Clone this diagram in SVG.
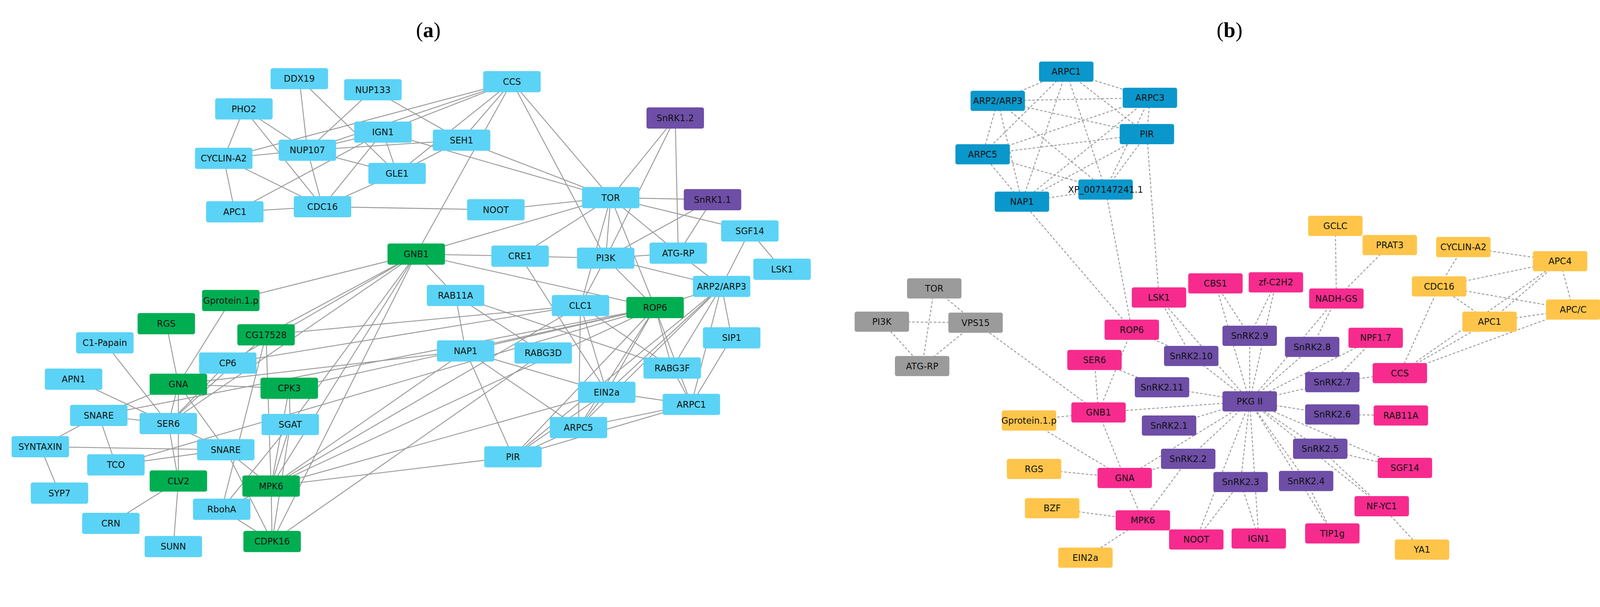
<svg xmlns="http://www.w3.org/2000/svg" width="4296" height="1553" viewBox="0 0 4296 1553">
<style>
.e line{stroke:#999;stroke-width:0.9;fill:none}
.d line{stroke:#999;stroke-width:0.9;stroke-dasharray:2.5 1.8;fill:none}
text{font-family:"DejaVu Sans","Liberation Sans",sans-serif;font-size:8.8px;fill:#111;text-anchor:middle;dominant-baseline:central}
.t{font-family:"Liberation Serif",serif;font-size:21px;fill:#000}
.lb rect{fill:#5BD3F6}.gr rect{fill:#00AE52}.pu rect{fill:#6E4EA6}.db rect{fill:#0A97CB}.pk rect{fill:#F72B8E}.ye rect{fill:#FFC54A}.gy rect{fill:#9B9B9B}
</style>
<rect width="4296" height="1553" fill="#fff"/>
<g transform="scale(2.58)">
<text class="t" x="425" y="30">(<tspan font-weight="bold">a</tspan>)</text>
<text class="t" x="1220" y="30">(<tspan font-weight="bold">b</tspan>)</text>
<g id="connectors">
<g class="e">
<line x1="297" y1="78" x2="305" y2="149"/><line x1="297" y1="78" x2="394" y2="172"/>
<line x1="370" y1="89" x2="305" y2="149"/><line x1="370" y1="89" x2="458" y2="139"/>
<line x1="242" y1="108" x2="222" y2="157"/><line x1="242" y1="108" x2="305" y2="149"/><line x1="242" y1="108" x2="320" y2="205"/>
<line x1="508" y1="81" x2="222" y2="157"/><line x1="508" y1="81" x2="305" y2="149"/><line x1="508" y1="81" x2="380" y2="131"/><line x1="508" y1="81" x2="394" y2="172"/><line x1="508" y1="81" x2="458" y2="139"/><line x1="508" y1="81" x2="413" y2="252"/><line x1="508" y1="81" x2="606" y2="196"/><line x1="508" y1="81" x2="601" y2="256"/>
<line x1="380" y1="131" x2="305" y2="149"/><line x1="380" y1="131" x2="394" y2="172"/><line x1="380" y1="131" x2="320" y2="205"/><line x1="380" y1="131" x2="233" y2="210"/><line x1="380" y1="131" x2="606" y2="196"/>
<line x1="458" y1="139" x2="305" y2="149"/><line x1="458" y1="139" x2="394" y2="172"/><line x1="458" y1="139" x2="606" y2="196"/>
<line x1="305" y1="149" x2="222" y2="157"/><line x1="305" y1="149" x2="394" y2="172"/><line x1="305" y1="149" x2="320" y2="205"/>
<line x1="222" y1="157" x2="233" y2="210"/><line x1="222" y1="157" x2="320" y2="205"/><line x1="394" y1="172" x2="320" y2="205"/>
<line x1="233" y1="210" x2="320" y2="205"/><line x1="320" y1="205" x2="492" y2="208"/><line x1="492" y1="208" x2="606" y2="196"/>
<line x1="670" y1="117" x2="606" y2="196"/><line x1="670" y1="117" x2="601" y2="256"/><line x1="670" y1="117" x2="673" y2="251"/>
<line x1="606" y1="196" x2="707" y2="198"/><line x1="606" y1="196" x2="744" y2="229"/><line x1="606" y1="196" x2="413" y2="252"/><line x1="606" y1="196" x2="516" y2="254"/><line x1="606" y1="196" x2="601" y2="256"/><line x1="606" y1="196" x2="673" y2="251"/><line x1="606" y1="196" x2="576" y2="303"/><line x1="606" y1="196" x2="650" y2="305"/>
<line x1="707" y1="198" x2="601" y2="256"/><line x1="707" y1="198" x2="673" y2="251"/>
<line x1="744" y1="229" x2="776" y2="267"/><line x1="744" y1="229" x2="716" y2="284"/>
<line x1="413" y1="252" x2="516" y2="254"/><line x1="516" y1="254" x2="601" y2="256"/><line x1="601" y1="256" x2="673" y2="251"/><line x1="601" y1="256" x2="716" y2="284"/><line x1="601" y1="256" x2="650" y2="305"/><line x1="601" y1="256" x2="576" y2="303"/><line x1="673" y1="251" x2="716" y2="284"/><line x1="516" y1="254" x2="602" y2="389"/>
<line x1="413" y1="252" x2="229" y2="298"/><line x1="413" y1="252" x2="452" y2="293"/><line x1="413" y1="252" x2="650" y2="305"/><line x1="413" y1="252" x2="264" y2="332"/><line x1="413" y1="252" x2="226" y2="360"/><line x1="413" y1="252" x2="167" y2="420"/><line x1="413" y1="252" x2="269" y2="482"/><line x1="413" y1="252" x2="270" y2="537"/><line x1="413" y1="252" x2="288" y2="421"/>
<line x1="452" y1="293" x2="462" y2="348"/><line x1="452" y1="293" x2="539" y2="350"/><line x1="452" y1="293" x2="667" y2="365"/>
<line x1="576" y1="303" x2="264" y2="332"/><line x1="576" y1="303" x2="226" y2="360"/><line x1="576" y1="303" x2="602" y2="389"/><line x1="576" y1="303" x2="574" y2="424"/><line x1="576" y1="303" x2="667" y2="365"/><line x1="576" y1="303" x2="269" y2="482"/>
<line x1="650" y1="305" x2="716" y2="284"/><line x1="650" y1="305" x2="462" y2="348"/><line x1="650" y1="305" x2="287" y2="385"/><line x1="650" y1="305" x2="98" y2="412"/><line x1="650" y1="305" x2="602" y2="389"/><line x1="650" y1="305" x2="574" y2="424"/><line x1="650" y1="305" x2="667" y2="365"/><line x1="650" y1="305" x2="686" y2="401"/><line x1="650" y1="305" x2="269" y2="482"/><line x1="650" y1="305" x2="509" y2="453"/><line x1="650" y1="305" x2="115" y2="461"/>
<line x1="716" y1="284" x2="726" y2="335"/><line x1="716" y1="284" x2="686" y2="401"/><line x1="716" y1="284" x2="602" y2="389"/><line x1="716" y1="284" x2="574" y2="424"/><line x1="716" y1="284" x2="509" y2="453"/><line x1="716" y1="284" x2="667" y2="365"/>
<line x1="726" y1="335" x2="686" y2="401"/><line x1="667" y1="365" x2="686" y2="401"/>
<line x1="462" y1="348" x2="602" y2="389"/><line x1="462" y1="348" x2="574" y2="424"/><line x1="462" y1="348" x2="509" y2="453"/><line x1="462" y1="348" x2="269" y2="482"/><line x1="462" y1="348" x2="177" y2="381"/>
<line x1="602" y1="389" x2="686" y2="401"/><line x1="602" y1="389" x2="574" y2="424"/><line x1="602" y1="389" x2="509" y2="453"/><line x1="602" y1="389" x2="269" y2="482"/>
<line x1="686" y1="401" x2="574" y2="424"/><line x1="686" y1="401" x2="509" y2="453"/><line x1="574" y1="424" x2="509" y2="453"/><line x1="509" y1="453" x2="269" y2="482"/><line x1="539" y1="350" x2="270" y2="537"/>
<line x1="229" y1="298" x2="177" y2="381"/><line x1="165" y1="321" x2="177" y2="381"/><line x1="104" y1="340" x2="167" y2="420"/><line x1="73" y1="376" x2="167" y2="420"/>
<line x1="226" y1="360" x2="98" y2="412"/><line x1="226" y1="360" x2="167" y2="420"/>
<line x1="177" y1="381" x2="287" y2="385"/><line x1="177" y1="381" x2="177" y2="477"/><line x1="177" y1="381" x2="224" y2="446"/><line x1="177" y1="381" x2="167" y2="420"/>
<line x1="264" y1="332" x2="269" y2="482"/><line x1="264" y1="332" x2="220" y2="505"/><line x1="264" y1="332" x2="167" y2="420"/>
<line x1="287" y1="385" x2="288" y2="421"/><line x1="287" y1="385" x2="269" y2="482"/>
<line x1="98" y1="412" x2="167" y2="420"/><line x1="98" y1="412" x2="115" y2="461"/><line x1="98" y1="412" x2="40" y2="443"/>
<line x1="40" y1="443" x2="224" y2="446"/><line x1="40" y1="443" x2="59" y2="489"/>
<line x1="167" y1="420" x2="224" y2="446"/><line x1="167" y1="420" x2="177" y2="477"/>
<line x1="288" y1="421" x2="269" y2="482"/><line x1="288" y1="421" x2="220" y2="505"/><line x1="288" y1="421" x2="270" y2="537"/>
<line x1="224" y1="446" x2="115" y2="461"/><line x1="224" y1="446" x2="269" y2="482"/><line x1="224" y1="446" x2="270" y2="537"/>
<line x1="177" y1="477" x2="110" y2="519"/><line x1="177" y1="477" x2="172" y2="542"/>
<line x1="269" y1="482" x2="220" y2="505"/><line x1="269" y1="482" x2="270" y2="537"/><line x1="220" y1="505" x2="270" y2="537"/>
</g>
<g class="d">
<line x1="1058" y1="71" x2="990" y2="100"/><line x1="1058" y1="71" x2="1141" y2="97"/><line x1="1058" y1="71" x2="1138" y2="133"/><line x1="1058" y1="71" x2="975" y2="153"/><line x1="1058" y1="71" x2="1014" y2="200"/><line x1="1058" y1="71" x2="1097" y2="188"/>
<line x1="990" y1="100" x2="1141" y2="97"/><line x1="990" y1="100" x2="1138" y2="133"/><line x1="990" y1="100" x2="975" y2="153"/><line x1="990" y1="100" x2="1014" y2="200"/><line x1="990" y1="100" x2="1097" y2="188"/>
<line x1="1141" y1="97" x2="1138" y2="133"/><line x1="1141" y1="97" x2="975" y2="153"/><line x1="1141" y1="97" x2="1014" y2="200"/><line x1="1141" y1="97" x2="1097" y2="188"/>
<line x1="1138" y1="133" x2="975" y2="153"/><line x1="1138" y1="133" x2="1014" y2="200"/><line x1="1138" y1="133" x2="1097" y2="188"/><line x1="1138" y1="133" x2="1150" y2="295"/>
<line x1="975" y1="153" x2="1014" y2="200"/><line x1="975" y1="153" x2="1097" y2="188"/><line x1="1014" y1="200" x2="1097" y2="188"/>
<line x1="1014" y1="200" x2="1123" y2="327"/><line x1="1097" y1="188" x2="1123" y2="327"/>
<line x1="927" y1="286" x2="915" y2="363"/><line x1="927" y1="286" x2="968" y2="320"/><line x1="875" y1="319" x2="968" y2="320"/><line x1="875" y1="319" x2="915" y2="363"/><line x1="968" y1="320" x2="915" y2="363"/><line x1="968" y1="320" x2="1090" y2="409"/>
<line x1="1325" y1="224" x2="1326" y2="296"/><line x1="1379" y1="243" x2="1326" y2="296"/>
<line x1="1452" y1="245" x2="1548" y2="259"/><line x1="1452" y1="245" x2="1428" y2="284"/><line x1="1548" y1="259" x2="1428" y2="284"/><line x1="1548" y1="259" x2="1561" y2="307"/><line x1="1548" y1="259" x2="1478" y2="319"/><line x1="1548" y1="259" x2="1389" y2="370"/>
<line x1="1428" y1="284" x2="1561" y2="307"/><line x1="1428" y1="284" x2="1478" y2="319"/><line x1="1428" y1="284" x2="1389" y2="370"/><line x1="1478" y1="319" x2="1561" y2="307"/><line x1="1478" y1="319" x2="1389" y2="370"/><line x1="1561" y1="307" x2="1389" y2="370"/>
<line x1="1240" y1="398" x2="1240" y2="333"/><line x1="1240" y1="398" x2="1302" y2="344"/><line x1="1240" y1="398" x2="1182" y2="353"/><line x1="1240" y1="398" x2="1153" y2="384"/><line x1="1240" y1="398" x2="1322" y2="379"/><line x1="1240" y1="398" x2="1322" y2="411"/><line x1="1240" y1="398" x2="1160" y2="422"/><line x1="1240" y1="398" x2="1310" y2="445"/><line x1="1240" y1="398" x2="1179" y2="455"/><line x1="1240" y1="398" x2="1231" y2="478"/><line x1="1240" y1="398" x2="1296" y2="477"/>
<line x1="1240" y1="398" x2="1206" y2="281"/><line x1="1240" y1="398" x2="1266" y2="280"/><line x1="1240" y1="398" x2="1150" y2="295"/><line x1="1240" y1="398" x2="1326" y2="296"/><line x1="1240" y1="398" x2="1365" y2="335"/><line x1="1240" y1="398" x2="1090" y2="409"/><line x1="1240" y1="398" x2="1394" y2="464"/><line x1="1240" y1="398" x2="1371" y2="502"/><line x1="1240" y1="398" x2="1249" y2="534"/><line x1="1240" y1="398" x2="1322" y2="529"/><line x1="1240" y1="398" x2="1187" y2="535"/><line x1="1240" y1="398" x2="1116" y2="474"/>
<line x1="1182" y1="353" x2="1150" y2="295"/><line x1="1182" y1="353" x2="1123" y2="327"/><line x1="1240" y1="333" x2="1206" y2="281"/><line x1="1240" y1="333" x2="1266" y2="280"/><line x1="1302" y1="344" x2="1326" y2="296"/><line x1="1322" y1="379" x2="1365" y2="335"/><line x1="1322" y1="379" x2="1389" y2="370"/><line x1="1153" y1="384" x2="1086" y2="357"/><line x1="1322" y1="411" x2="1390" y2="412"/><line x1="1310" y1="445" x2="1394" y2="464"/><line x1="1310" y1="445" x2="1371" y2="502"/><line x1="1296" y1="477" x2="1322" y2="529"/><line x1="1231" y1="478" x2="1249" y2="534"/><line x1="1231" y1="478" x2="1187" y2="535"/><line x1="1179" y1="455" x2="1134" y2="516"/><line x1="1179" y1="455" x2="1116" y2="474"/>
<line x1="1090" y1="409" x2="1086" y2="357"/><line x1="1090" y1="409" x2="1123" y2="327"/><line x1="1090" y1="409" x2="1116" y2="474"/><line x1="1090" y1="409" x2="1021" y2="417"/><line x1="1021" y1="417" x2="1116" y2="474"/><line x1="1026" y1="465" x2="1116" y2="474"/><line x1="1116" y1="474" x2="1134" y2="516"/><line x1="1044" y1="504" x2="1134" y2="516"/><line x1="1134" y1="516" x2="1077" y2="553"/><line x1="1371" y1="502" x2="1411" y2="545"/>
</g>
</g>
<g id="nodes-a">
<g id="a-DDX19" class="lb"><rect x="268.5" y="67.5" width="57" height="21" rx="2"/><text x="297" y="78">DDX19</text></g>
<g id="a-NUP133" class="lb"><rect x="341.5" y="78.5" width="57" height="21" rx="2"/><text x="370" y="89">NUP133</text></g>
<g id="a-CCS" class="lb"><rect x="479.5" y="70.5" width="57" height="21" rx="2"/><text x="508" y="81">CCS</text></g>
<g id="a-PHO2" class="lb"><rect x="213.5" y="97.5" width="57" height="21" rx="2"/><text x="242" y="108">PHO2</text></g>
<g id="a-SnRK1.2" class="pu"><rect x="641.5" y="106.5" width="57" height="21" rx="2"/><text x="670" y="117">SnRK1.2</text></g>
<g id="a-IGN1" class="lb"><rect x="351.5" y="120.5" width="57" height="21" rx="2"/><text x="380" y="131">IGN1</text></g>
<g id="a-SEH1" class="lb"><rect x="429.5" y="128.5" width="57" height="21" rx="2"/><text x="458" y="139">SEH1</text></g>
<g id="a-NUP107" class="lb"><rect x="276.5" y="138.5" width="57" height="21" rx="2"/><text x="305" y="149">NUP107</text></g>
<g id="a-CYCLIN-A2" class="lb"><rect x="193.5" y="146.5" width="57" height="21" rx="2"/><text x="222" y="157">CYCLIN-A2</text></g>
<g id="a-GLE1" class="lb"><rect x="365.5" y="161.5" width="57" height="21" rx="2"/><text x="394" y="172">GLE1</text></g>
<g id="a-TOR" class="lb"><rect x="577.5" y="185.5" width="57" height="21" rx="2"/><text x="606" y="196">TOR</text></g>
<g id="a-SnRK1.1" class="pu"><rect x="678.5" y="187.5" width="57" height="21" rx="2"/><text x="707" y="198">SnRK1.1</text></g>
<g id="a-APC1" class="lb"><rect x="204.5" y="199.5" width="57" height="21" rx="2"/><text x="233" y="210">APC1</text></g>
<g id="a-CDC16" class="lb"><rect x="291.5" y="194.5" width="57" height="21" rx="2"/><text x="320" y="205">CDC16</text></g>
<g id="a-NOOT" class="lb"><rect x="463.5" y="197.5" width="57" height="21" rx="2"/><text x="492" y="208">NOOT</text></g>
<g id="a-SGF14" class="lb"><rect x="715.5" y="218.5" width="57" height="21" rx="2"/><text x="744" y="229">SGF14</text></g>
<g id="a-GNB1" class="gr"><rect x="384.5" y="241.5" width="57" height="21" rx="2"/><text x="413" y="252">GNB1</text></g>
<g id="a-CRE1" class="lb"><rect x="487.5" y="243.5" width="57" height="21" rx="2"/><text x="516" y="254">CRE1</text></g>
<g id="a-PI3K" class="lb"><rect x="572.5" y="245.5" width="57" height="21" rx="2"/><text x="601" y="256">PI3K</text></g>
<g id="a-ATG-RP" class="lb"><rect x="644.5" y="240.5" width="57" height="21" rx="2"/><text x="673" y="251">ATG-RP</text></g>
<g id="a-LSK1" class="lb"><rect x="747.5" y="256.5" width="57" height="21" rx="2"/><text x="776" y="267">LSK1</text></g>
<g id="a-ARP2ARP3" class="lb"><rect x="687.5" y="273.5" width="57" height="21" rx="2"/><text x="716" y="284">ARP2/ARP3</text></g>
<g id="a-Gprotein" class="gr"><rect x="200.5" y="287.5" width="57" height="21" rx="2"/><text x="229" y="298">Gprotein.1.p</text></g>
<g id="a-RAB11A" class="lb"><rect x="423.5" y="282.5" width="57" height="21" rx="2"/><text x="452" y="293">RAB11A</text></g>
<g id="a-CLC1" class="lb"><rect x="547.5" y="292.5" width="57" height="21" rx="2"/><text x="576" y="303">CLC1</text></g>
<g id="a-ROP6" class="gr"><rect x="621.5" y="294.5" width="57" height="21" rx="2"/><text x="650" y="305">ROP6</text></g>
<g id="a-RGS" class="gr"><rect x="136.5" y="310.5" width="57" height="21" rx="2"/><text x="165" y="321">RGS</text></g>
<g id="a-CG17528" class="gr"><rect x="235.5" y="321.5" width="57" height="21" rx="2"/><text x="264" y="332">CG17528</text></g>
<g id="a-C1-Papain" class="lb"><rect x="75.5" y="329.5" width="57" height="21" rx="2"/><text x="104" y="340">C1-Papain</text></g>
<g id="a-SIP1" class="lb"><rect x="697.5" y="324.5" width="57" height="21" rx="2"/><text x="726" y="335">SIP1</text></g>
<g id="a-NAP1" class="lb"><rect x="433.5" y="337.5" width="57" height="21" rx="2"/><text x="462" y="348">NAP1</text></g>
<g id="a-RABG3D" class="lb"><rect x="510.5" y="339.5" width="57" height="21" rx="2"/><text x="539" y="350">RABG3D</text></g>
<g id="a-CP6" class="lb"><rect x="197.5" y="349.5" width="57" height="21" rx="2"/><text x="226" y="360">CP6</text></g>
<g id="a-RABG3F" class="lb"><rect x="638.5" y="354.5" width="57" height="21" rx="2"/><text x="667" y="365">RABG3F</text></g>
<g id="a-APN1" class="lb"><rect x="44.5" y="365.5" width="57" height="21" rx="2"/><text x="73" y="376">APN1</text></g>
<g id="a-GNA" class="gr"><rect x="148.5" y="370.5" width="57" height="21" rx="2"/><text x="177" y="381">GNA</text></g>
<g id="a-CPK3" class="gr"><rect x="258.5" y="374.5" width="57" height="21" rx="2"/><text x="287" y="385">CPK3</text></g>
<g id="a-EIN2a" class="lb"><rect x="573.5" y="378.5" width="57" height="21" rx="2"/><text x="602" y="389">EIN2a</text></g>
<g id="a-ARPC1" class="lb"><rect x="657.5" y="390.5" width="57" height="21" rx="2"/><text x="686" y="401">ARPC1</text></g>
<g id="a-SNARE-1" class="lb"><rect x="69.5" y="401.5" width="57" height="21" rx="2"/><text x="98" y="412">SNARE</text></g>
<g id="a-SER6" class="lb"><rect x="138.5" y="409.5" width="57" height="21" rx="2"/><text x="167" y="420">SER6</text></g>
<g id="a-SGAT" class="lb"><rect x="259.5" y="410.5" width="57" height="21" rx="2"/><text x="288" y="421">SGAT</text></g>
<g id="a-ARPC5" class="lb"><rect x="545.5" y="413.5" width="57" height="21" rx="2"/><text x="574" y="424">ARPC5</text></g>
<g id="a-SYNTAXIN" class="lb"><rect x="11.5" y="432.5" width="57" height="21" rx="2"/><text x="40" y="443">SYNTAXIN</text></g>
<g id="a-SNARE-2" class="lb"><rect x="195.5" y="435.5" width="57" height="21" rx="2"/><text x="224" y="446">SNARE</text></g>
<g id="a-TCO" class="lb"><rect x="86.5" y="450.5" width="57" height="21" rx="2"/><text x="115" y="461">TCO</text></g>
<g id="a-PIR" class="lb"><rect x="480.5" y="442.5" width="57" height="21" rx="2"/><text x="509" y="453">PIR</text></g>
<g id="a-CLV2" class="gr"><rect x="148.5" y="466.5" width="57" height="21" rx="2"/><text x="177" y="477">CLV2</text></g>
<g id="a-MPK6" class="gr"><rect x="240.5" y="471.5" width="57" height="21" rx="2"/><text x="269" y="482">MPK6</text></g>
<g id="a-SYP7" class="lb"><rect x="30.5" y="478.5" width="57" height="21" rx="2"/><text x="59" y="489">SYP7</text></g>
<g id="a-RbohA" class="lb"><rect x="191.5" y="494.5" width="57" height="21" rx="2"/><text x="220" y="505">RbohA</text></g>
<g id="a-CRN" class="lb"><rect x="81.5" y="508.5" width="57" height="21" rx="2"/><text x="110" y="519">CRN</text></g>
<g id="a-SUNN" class="lb"><rect x="143.5" y="531.5" width="57" height="21" rx="2"/><text x="172" y="542">SUNN</text></g>
<g id="a-CDPK16" class="gr"><rect x="241.5" y="526.5" width="57" height="21" rx="2"/><text x="270" y="537">CDPK16</text></g>
</g>
<g id="nodes-b">
<g id="b-ARPC1" class="db"><rect x="1031" y="61" width="54" height="20" rx="2"/><text x="1058" y="71">ARPC1</text></g>
<g id="b-ARP2ARP3" class="db"><rect x="963" y="90" width="54" height="20" rx="2"/><text x="990" y="100">ARP2/ARP3</text></g>
<g id="b-ARPC3" class="db"><rect x="1114" y="87" width="54" height="20" rx="2"/><text x="1141" y="97">ARPC3</text></g>
<g id="b-PIR" class="db"><rect x="1111" y="123" width="54" height="20" rx="2"/><text x="1138" y="133">PIR</text></g>
<g id="b-ARPC5" class="db"><rect x="948" y="143" width="54" height="20" rx="2"/><text x="975" y="153">ARPC5</text></g>
<g id="b-XP" class="db"><rect x="1070" y="178" width="54" height="20" rx="2"/><text x="1097" y="188">XP_007147241.1</text></g>
<g id="b-NAP1" class="db"><rect x="987" y="190" width="54" height="20" rx="2"/><text x="1014" y="200">NAP1</text></g>
<g id="b-GCLC" class="ye"><rect x="1298" y="214" width="54" height="20" rx="2"/><text x="1325" y="224">GCLC</text></g>
<g id="b-PRAT3" class="ye"><rect x="1352" y="233" width="54" height="20" rx="2"/><text x="1379" y="243">PRAT3</text></g>
<g id="b-CYCLIN-A2" class="ye"><rect x="1425" y="235" width="54" height="20" rx="2"/><text x="1452" y="245">CYCLIN-A2</text></g>
<g id="b-APC4" class="ye"><rect x="1521" y="249" width="54" height="20" rx="2"/><text x="1548" y="259">APC4</text></g>
<g id="b-CDC16" class="ye"><rect x="1401" y="274" width="54" height="20" rx="2"/><text x="1428" y="284">CDC16</text></g>
<g id="b-APCC" class="ye"><rect x="1534" y="297" width="54" height="20" rx="2"/><text x="1561" y="307">APC/C</text></g>
<g id="b-APC1" class="ye"><rect x="1451" y="309" width="54" height="20" rx="2"/><text x="1478" y="319">APC1</text></g>
<g id="b-TOR" class="gy"><rect x="900" y="276" width="54" height="20" rx="2"/><text x="927" y="286">TOR</text></g>
<g id="b-PI3K" class="gy"><rect x="848" y="309" width="54" height="20" rx="2"/><text x="875" y="319">PI3K</text></g>
<g id="b-VPS15" class="gy"><rect x="941" y="310" width="54" height="20" rx="2"/><text x="968" y="320">VPS15</text></g>
<g id="b-ATG-RP" class="gy"><rect x="888" y="353" width="54" height="20" rx="2"/><text x="915" y="363">ATG-RP</text></g>
<g id="b-CBS1" class="pk"><rect x="1179" y="271" width="54" height="20" rx="2"/><text x="1206" y="281">CBS1</text></g>
<g id="b-zf-C2H2" class="pk"><rect x="1239" y="270" width="54" height="20" rx="2"/><text x="1266" y="280">zf-C2H2</text></g>
<g id="b-LSK1" class="pk"><rect x="1123" y="285" width="54" height="20" rx="2"/><text x="1150" y="295">LSK1</text></g>
<g id="b-NADH-GS" class="pk"><rect x="1299" y="286" width="54" height="20" rx="2"/><text x="1326" y="296">NADH-GS</text></g>
<g id="b-ROP6" class="pk"><rect x="1096" y="317" width="54" height="20" rx="2"/><text x="1123" y="327">ROP6</text></g>
<g id="b-NPF1.7" class="pk"><rect x="1338" y="325" width="54" height="20" rx="2"/><text x="1365" y="335">NPF1.7</text></g>
<g id="b-SER6" class="pk"><rect x="1059" y="347" width="54" height="20" rx="2"/><text x="1086" y="357">SER6</text></g>
<g id="b-CCS" class="pk"><rect x="1362" y="360" width="54" height="20" rx="2"/><text x="1389" y="370">CCS</text></g>
<g id="b-GNB1" class="pk"><rect x="1063" y="399" width="54" height="20" rx="2"/><text x="1090" y="409">GNB1</text></g>
<g id="b-RAB11A" class="pk"><rect x="1363" y="402" width="54" height="20" rx="2"/><text x="1390" y="412">RAB11A</text></g>
<g id="b-SGF14" class="pk"><rect x="1367" y="454" width="54" height="20" rx="2"/><text x="1394" y="464">SGF14</text></g>
<g id="b-GNA" class="pk"><rect x="1089" y="464" width="54" height="20" rx="2"/><text x="1116" y="474">GNA</text></g>
<g id="b-NF-YC1" class="pk"><rect x="1344" y="492" width="54" height="20" rx="2"/><text x="1371" y="502">NF-YC1</text></g>
<g id="b-MPK6" class="pk"><rect x="1107" y="506" width="54" height="20" rx="2"/><text x="1134" y="516">MPK6</text></g>
<g id="b-NOOT" class="pk"><rect x="1160" y="525" width="54" height="20" rx="2"/><text x="1187" y="535">NOOT</text></g>
<g id="b-IGN1" class="pk"><rect x="1222" y="524" width="54" height="20" rx="2"/><text x="1249" y="534">IGN1</text></g>
<g id="b-TIP1g" class="pk"><rect x="1295" y="519" width="54" height="20" rx="2"/><text x="1322" y="529">TIP1g</text></g>
<g id="b-Gprotein" class="ye"><rect x="994" y="407" width="54" height="20" rx="2"/><text x="1021" y="417">Gprotein.1.p</text></g>
<g id="b-RGS" class="ye"><rect x="999" y="455" width="54" height="20" rx="2"/><text x="1026" y="465">RGS</text></g>
<g id="b-BZF" class="ye"><rect x="1017" y="494" width="54" height="20" rx="2"/><text x="1044" y="504">BZF</text></g>
<g id="b-EIN2a" class="ye"><rect x="1050" y="543" width="54" height="20" rx="2"/><text x="1077" y="553">EIN2a</text></g>
<g id="b-YA1" class="ye"><rect x="1384" y="535" width="54" height="20" rx="2"/><text x="1411" y="545">YA1</text></g>
<g id="b-PKGII" class="pu"><rect x="1213" y="388" width="54" height="20" rx="2"/><text x="1240" y="398">PKG II</text></g>
<g id="b-SnRK2.9" class="pu"><rect x="1213" y="323" width="54" height="20" rx="2"/><text x="1240" y="333">SnRK2.9</text></g>
<g id="b-SnRK2.8" class="pu"><rect x="1275" y="334" width="54" height="20" rx="2"/><text x="1302" y="344">SnRK2.8</text></g>
<g id="b-SnRK2.10" class="pu"><rect x="1155" y="343" width="54" height="20" rx="2"/><text x="1182" y="353">SnRK2.10</text></g>
<g id="b-SnRK2.11" class="pu"><rect x="1126" y="374" width="54" height="20" rx="2"/><text x="1153" y="384">SnRK2.11</text></g>
<g id="b-SnRK2.7" class="pu"><rect x="1295" y="369" width="54" height="20" rx="2"/><text x="1322" y="379">SnRK2.7</text></g>
<g id="b-SnRK2.6" class="pu"><rect x="1295" y="401" width="54" height="20" rx="2"/><text x="1322" y="411">SnRK2.6</text></g>
<g id="b-SnRK2.1" class="pu"><rect x="1133" y="412" width="54" height="20" rx="2"/><text x="1160" y="422">SnRK2.1</text></g>
<g id="b-SnRK2.5" class="pu"><rect x="1283" y="435" width="54" height="20" rx="2"/><text x="1310" y="445">SnRK2.5</text></g>
<g id="b-SnRK2.2" class="pu"><rect x="1152" y="445" width="54" height="20" rx="2"/><text x="1179" y="455">SnRK2.2</text></g>
<g id="b-SnRK2.3" class="pu"><rect x="1204" y="468" width="54" height="20" rx="2"/><text x="1231" y="478">SnRK2.3</text></g>
<g id="b-SnRK2.4" class="pu"><rect x="1269" y="467" width="54" height="20" rx="2"/><text x="1296" y="477">SnRK2.4</text></g>
</g>
</g>
</svg>
